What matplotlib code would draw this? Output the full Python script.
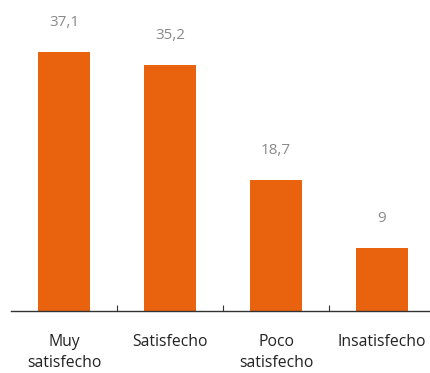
import matplotlib
matplotlib.use('Agg')
import matplotlib.pyplot as plt

categories = ['Muy\nsatisfecho', 'Satisfecho', 'Poco\nsatisfecho', 'Insatisfecho']
values = [37.1, 35.2, 18.7, 9]
value_labels = ['37,1', '35,2', '18,7', '9']

plt.rcParams['font.family'] = ['Open Sans', 'DejaVu Sans']

fig = plt.figure(figsize=(4.3, 3.73), dpi=100)
ax = fig.add_axes([11 / 430, 62 / 373, 424 / 430, 311 / 373])

x = range(len(categories))
ax.bar(x, values, width=0.49, color='#E9630F', zorder=2)

for xi, v, lab in zip(x, values, value_labels):
    ax.annotate(lab, (xi, v), xytext=(0, 21.6), textcoords='offset points',
                ha='center', va='center', fontsize=11, color='#8a8a8a')

ax.set_xlim(-0.5, 3.5)
ax.set_ylim(0, 44.55)

for s in ['top', 'right', 'left']:
    ax.spines[s].set_visible(False)
ax.spines['bottom'].set_color('#333333')
ax.spines['bottom'].set_linewidth(1)

ax.set_yticks([])
ax.set_xticks(list(x))
ax.set_xticklabels(categories, fontsize=11.3, color='#222222', linespacing=1.45)
ax.tick_params(axis='x', which='major', length=0, pad=16.5)
ax.set_xticks([0.5, 1.5, 2.5], minor=True)
ax.tick_params(axis='x', which='minor', direction='in', length=4, width=0.8, color='#333333')

fig.savefig('out.png', dpi=100)
